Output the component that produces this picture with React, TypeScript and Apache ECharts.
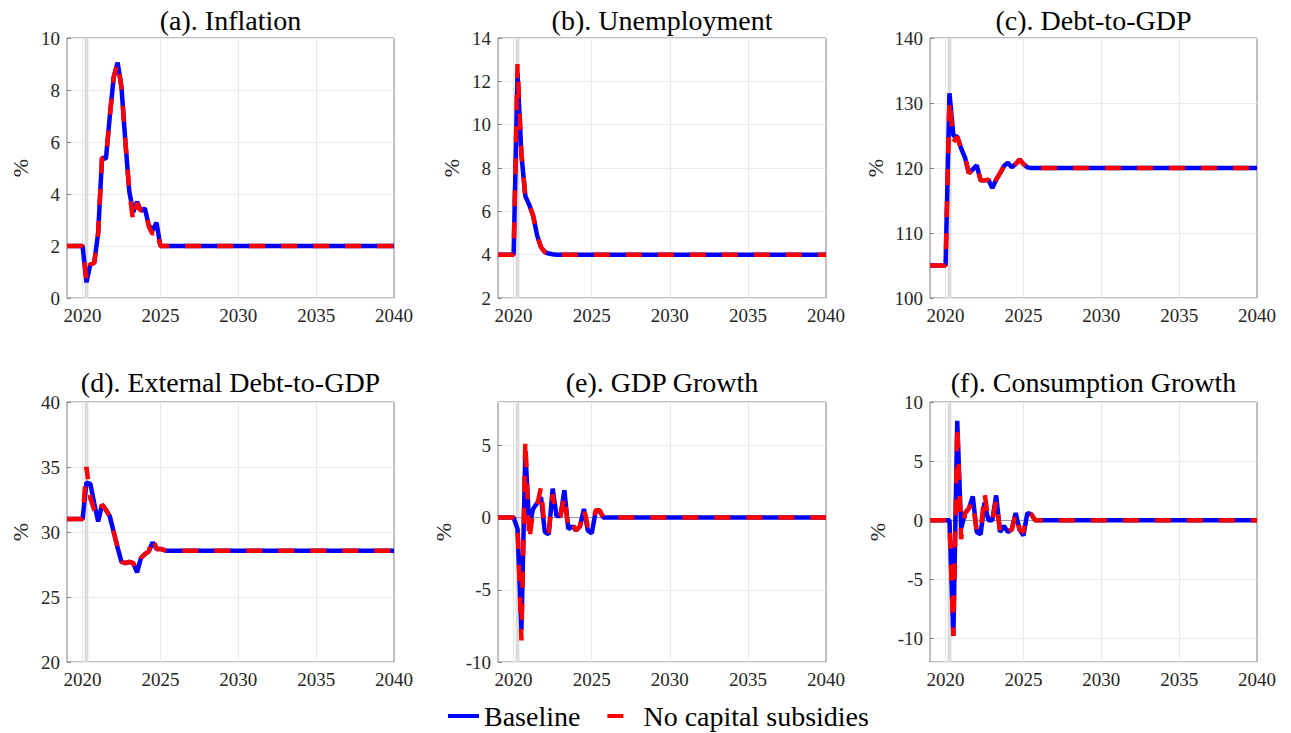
import { useEffect, useRef } from "react";
import * as echarts from "echarts";

// quarterly dates of the dynamic part, then the last date of the horizon
const quarters = [
  2019, 2020, 2020.25, 2020.5, 2020.75, 2021, 2021.25, 2021.5, 2021.75, 2022,
  2022.25, 2022.5, 2022.75, 2023, 2023.25, 2023.5, 2023.75, 2024, 2024.25,
  2024.5, 2024.75, 2025, 2025.25, 2025.5, 2025.75, 2026, 2040,
];

const inflationBase = [
  2.0, 2.0, 0.6, 1.3, 1.35, 2.5, 5.4, 5.35, 7.0, 8.5, 9.05, 8.1, 6.0, 4.1, 3.3,
  3.7, 3.35, 3.45, 2.8, 2.6, 2.9, 2.0, 2.0, 2.0, 2.0, 2.0, 2.0,
];
const inflationNoSub = [
  2.0, 2.0, 0.7, 1.3, 1.35, 2.5, 5.4, 5.35, 7.0, 8.5, 9.05, 8.1, 6.0, 4.1, 2.95,
  3.65, 3.35, 3.45, 2.75, 2.45, 2.65, 2.0, 2.0, 2.0, 2.0, 2.0, 2.0,
];

const unemploymentBase = [
  4.0, 4.0, 12.4, 8.6, 6.7, 6.3, 5.8, 4.9, 4.35, 4.12, 4.05, 4.02, 4.0, 4.0, 4.0,
  4.0, 4.0, 4.0, 4.0, 4.0, 4.0, 4.0, 4.0, 4.0, 4.0, 4.0, 4.0,
];
const unemploymentNoSub = [
  4.0, 4.0, 12.8, 8.7, 6.7, 6.3, 5.8, 4.9, 4.35, 4.12, 4.05, 4.02, 4.0, 4.0, 4.0,
  4.0, 4.0, 4.0, 4.0, 4.0, 4.0, 4.0, 4.0, 4.0, 4.0, 4.0, 4.0,
];

const debtBase = [
  105, 105, 131.5, 125.0, 124.8, 123.0, 121.6, 119.2, 119.8, 120.4, 118.1, 118.1,
  118.2, 116.9, 118.2, 119.2, 120.3, 120.8, 120.1, 120.6, 121.3, 120.6, 120.1,
  120.0, 120.0, 120.0, 120.0,
];
const debtNoSub = [
  105, 105, 130.5, 124.0, 124.8, 123.0, 121.6, 119.2, 119.8, 120.4, 118.1, 118.1,
  118.2, 116.9, 118.2, 119.2, 120.3, 120.8, 120.1, 120.6, 121.3, 120.6, 120.1,
  120.0, 120.0, 120.0, 120.0,
];

const extDebtBase = [
  31.0, 31.0, 33.8, 33.7, 32.2, 30.8, 32.1, 31.7, 31.2, 30.0, 28.8, 27.7, 27.6,
  27.7, 27.6, 26.9, 28.0, 28.3, 28.5, 29.2, 28.7, 28.7, 28.6, 28.55, 28.55,
  28.55, 28.55,
];
const extDebtNoSub = [
  31.0, 31.0, 35.0, 32.6, 31.7, 31.2, 32.1, 31.7, 31.2, 30.0, 28.8, 27.7, 27.6,
  27.7, 27.6, 27.1, 28.0, 28.3, 28.5, 29.6, 28.7, 28.7, 28.6, 28.55, 28.55,
  28.55, 28.55,
];

const gdpBase = [
  0, 0, -0.8, -7.8, 4.6, -0.6, 0.6, 1.0, 1.4, -1.0, -1.15, 2.0, 0.1, 0.1, 1.9,
  -0.8, -0.6, -0.9, -0.6, 0.6, -0.9, -1.1, 0.4, 0.5, 0, 0, 0,
];
const gdpNoSub = [
  0, 0, -0.5, -8.5, 5.4, -1.6, 0.5, 0.8, 2.1, -0.9, -1.0, 1.6, 0.1, 0.1, 1.5,
  -0.8, -0.4, -0.9, -0.6, 0.6, -0.6, -0.7, 0.5, 0.5, 0, 0, 0,
];

const consBase = [
  0, 0, 0, -9.8, 8.4, -0.7, 0.6, 1.0, 2.0, -1.0, -1.2, 1.5, 0, 0, 2.1, -1.0,
  -0.5, -1.0, -0.8, 0.6, -0.8, -1.3, 0.6, 0.5, 0, 0, 0,
];
const consNoSub = [
  0, 0, 0, -9.8, 8.0, -1.6, 0.6, 1.0, 1.6, -1.0, -1.0, 2.3, 0, 0, 1.7, -1.0,
  -0.5, -0.9, -0.8, 0.6, -0.8, -1.0, 0.6, 0.5, 0, 0, 0,
];

const titles = [
  "(a). Inflation",
  "(b). Unemployment",
  "(c). Debt-to-GDP",
  "(d). External Debt-to-GDP",
  "(e). GDP Growth",
  "(f). Consumption Growth",
];
const baseSeries = [inflationBase, unemploymentBase, debtBase, extDebtBase, gdpBase, consBase];
const altSeries = [inflationNoSub, unemploymentNoSub, debtNoSub, extDebtNoSub, gdpNoSub, consNoSub];

// y-axis ranges
const yMins = [0, 2, 100, 20, -10, -12];
const yMaxs = [10, 14, 140, 40, 8, 10];
const yIntervals = [2, 2, 10, 5, 5, undefined];

const yearGrid = [2020, 2025, 2030, 2035];
const shockStart = 2020.125;
const shockEnd = 2020.375;

// layout (pixels)
const gridLefts = [67, 498, 930, 67, 498, 930];
const gridTops = [38, 38, 38, 402, 402, 402];
const gridWidths = [327, 328, 327, 327, 328, 327];
const gridHeight = 260;
const nameGaps = [36, 36, 44, 36, 44, 42];

const FONT = "Liberation Serif";

export default function App() {
  const chartRef = useRef<HTMLDivElement>(null);

  useEffect(() => {
    if (!chartRef.current) return;
    const chart = echarts.init(chartRef.current, undefined, { renderer: "svg" });

    const toPairs = (vals: number[]) => quarters.map((t, i) => [t, vals[i]]);

    const grid = titles.map((_, i) => ({
      left: gridLefts[i],
      top: gridTops[i],
      width: gridWidths[i],
      height: gridHeight,
      show: true,
      borderColor: "#808080",
      borderWidth: 1,
      backgroundColor: "transparent",
    }));

    const xAxis = titles.map((_, i) => ({
      type: "value",
      gridIndex: i,
      min: 2019,
      max: 2040,
      interval: 1,
      axisLine: { show: false },
      axisTick: { show: false },
      splitLine: { show: false },
      axisLabel: {
        margin: 8,
        fontSize: 19,
        fontFamily: FONT,
        color: "#262626",
        formatter: (v: number) => (v % 5 === 0 ? String(v) : ""),
      },
    }));

    const yAxis = titles.map((_, i) => ({
      type: "value",
      gridIndex: i,
      min: yMins[i],
      max: yMaxs[i],
      interval: yIntervals[i],
      name: "%",
      nameLocation: "middle",
      nameGap: nameGaps[i],
      nameRotate: 90,
      nameTextStyle: { fontSize: 22, fontFamily: FONT, color: "#262626" },
      axisLine: { show: false },
      axisTick: {
        show: true,
        inside: true,
        length: 4,
        lineStyle: { color: "#808080" },
      },
      splitLine: { lineStyle: { color: "#ebebeb", width: 1 } },
      axisLabel: {
        margin: 7,
        fontSize: 19,
        fontFamily: FONT,
        color: "#262626",
        showMinLabel: yIntervals[i] !== undefined,
        showMaxLabel: yMaxs[i] % 5 === 0 || yIntervals[i] === 2,
      },
    }));

    const series: any[] = [];
    titles.forEach((_, i) => {
      const refLines: any[] = yearGrid.map((x) => ({ xAxis: x }));
      if (yMins[i] < 0) {
        refLines.push({ yAxis: 0, lineStyle: { color: "#9a9a9a", width: 1 } });
      }
      series.push({
        name: "Baseline",
        type: "line",
        xAxisIndex: i,
        yAxisIndex: i,
        data: toPairs(baseSeries[i]),
        symbol: "none",
        lineStyle: { color: "#0000ff", width: 4.5 },
        itemStyle: { color: "#0000ff" },
        markArea: {
          silent: true,
          itemStyle: { color: "#dcdcdc" },
          data: [[{ xAxis: shockStart }, { xAxis: shockEnd }]],
        },
        markLine: {
          silent: true,
          z: 1,
          symbol: ["none", "none"],
          label: { show: false },
          lineStyle: { color: "#e8e8e8", width: 1, type: "solid" },
          data: refLines,
        },
      });
      series.push({
        name: "No capital subsidies",
        type: "line",
        xAxisIndex: i,
        yAxisIndex: i,
        data: toPairs(altSeries[i]),
        symbol: "none",
        lineStyle: { color: "#ff0000", width: 4.5, type: [16, 16] },
        itemStyle: { color: "#ff0000" },
      });
    });

    const graphic = titles.map((t, i) => ({
      type: "text",
      x: gridLefts[i] + gridWidths[i] / 2,
      y: i < 3 ? 20 : 382,
      style: {
        text: t,
        fontSize: 28,
        fontFamily: FONT,
        fill: "#000",
        textAlign: "center",
        textVerticalAlign: "middle",
      },
    }));

    chart.setOption({
      animation: false,
      backgroundColor: "#ffffff",
      textStyle: { fontFamily: FONT },
      grid,
      xAxis,
      yAxis,
      series,
      graphic,
      legend: {
        data: [
          { name: "Baseline", icon: "path://M0 0H31V4H0Z" },
          // one red dash followed by an empty gap, as in a dashed-line key
          { name: "No capital subsidies", icon: "path://M0 0H16V4H0Z M31 0L31 4" },
        ],
        left: 448,
        top: 702,
        padding: 0,
        itemWidth: 31,
        itemHeight: 4,
        itemGap: 27,
        selectedMode: false,
        textStyle: { fontSize: 28, fontFamily: FONT, color: "#000" },
      },
    });

    const handleResize = () => chart.resize();
    window.addEventListener("resize", handleResize);
    return () => {
      window.removeEventListener("resize", handleResize);
      chart.dispose();
    };
  }, []);

  return (
    <div
      ref={chartRef}
      style={{ position: "absolute", left: 0, top: 0, width: 1291, height: 733 }}
    />
  );
}
